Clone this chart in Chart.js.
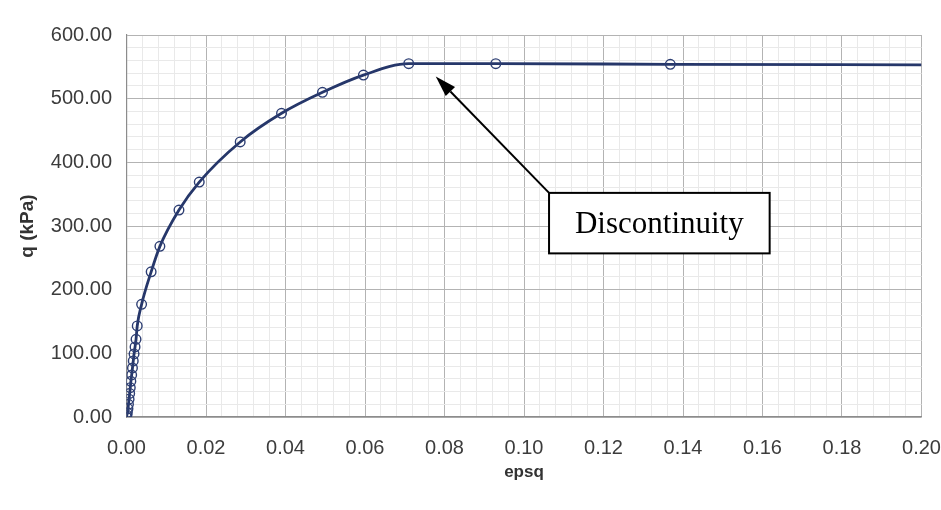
<!DOCTYPE html>
<html>
<head>
<meta charset="utf-8">
<script src="https://cdn.jsdelivr.net/npm/chart.js@4.4.1/dist/chart.umd.min.js"></script>
<style>
  html, body { margin: 0; padding: 0; background: #fff; }
  #wrap { width: 941px; height: 510px; }
</style>
</head>
<body>
<div id="wrap"><canvas id="qchart" width="941" height="510"></canvas></div>
<script>
// values (last point has no marker, the curve just runs on to the edge)
var epsq = [0, 0.0001, 0.00022, 0.00037, 0.0005, 0.00065, 0.0008, 0.00095, 0.0011, 0.0013,
            0.0015, 0.0017, 0.0019, 0.00215, 0.0024, 0.0027, 0.0038, 0.0062, 0.0084, 0.0132,
            0.0183, 0.0286, 0.0390, 0.0493, 0.0596, 0.0710, 0.0929, 0.1368, 0.2000];
var q = [0, 3, 7, 13, 20, 28, 37, 46, 56, 66,
         77, 88, 99, 110, 122, 143, 177, 228, 268, 325,
         369, 432, 477, 510, 537, 555, 555, 554, 553];

var xMajor = 0.02, xMinor = 0.004;
var yMajor = 100, yMinor = 20;

// annotation anchored in data units
var arrowTip = [0.0778, 535];
var noteBox = [0.1063, 352, 0.1618, 257]; // x1, q-top, x2, q-bottom
var noteText = "Discontinuity";

var pts = [];
for (var i = 0; i < epsq.length; i++) {
	pts.push({x: epsq[i], y: q[i]});
}

function isMajor(v, step) {
	var r = v / step;
	return Math.abs(r - Math.round(r)) < 1e-6;
}

var noteplugin = {
	id: 'note',
	beforeDraw: function(chart) {
		var c = chart.ctx;
		c.save();
		c.fillStyle = '#fff';
		c.fillRect(0, 0, chart.width, chart.height);
		c.restore();
	},
	afterDraw: function(chart) {
		var c = chart.ctx;
		var xs = chart.scales.x, ys = chart.scales.y;
		var bx1 = xs.getPixelForValue(noteBox[0]), by1 = ys.getPixelForValue(noteBox[1]);
		var bx2 = xs.getPixelForValue(noteBox[2]), by2 = ys.getPixelForValue(noteBox[3]);
		var tx = xs.getPixelForValue(arrowTip[0]), ty = ys.getPixelForValue(arrowTip[1]);

		c.save();
		// arrow shaft
		var ang = Math.atan2(ty - by1, tx - bx1);
		var hl = 21, hw = 6.5;
		var baseX = tx - hl * Math.cos(ang), baseY = ty - hl * Math.sin(ang);
		c.strokeStyle = '#000';
		c.lineWidth = 2;
		c.beginPath();
		c.moveTo(bx1, by1);
		c.lineTo(baseX, baseY);
		c.stroke();
		// arrow head
		c.fillStyle = '#000';
		c.beginPath();
		c.moveTo(tx, ty);
		c.lineTo(baseX + hw * Math.sin(ang), baseY - hw * Math.cos(ang));
		c.lineTo(baseX - hw * Math.sin(ang), baseY + hw * Math.cos(ang));
		c.closePath();
		c.fill();

		// box
		c.fillStyle = '#fff';
		c.fillRect(bx1, by1, bx2 - bx1, by2 - by1);
		c.lineWidth = 2;
		c.strokeRect(bx1, by1, bx2 - bx1, by2 - by1);
		c.fillStyle = '#000';
		c.font = '31px "Liberation Serif", "Times New Roman", serif';
		c.textAlign = 'center';
		c.textBaseline = 'middle';
		c.fillText(noteText, (bx1 + bx2) / 2, (by1 + by2) / 2 + 2);
		c.restore();
	}
};

var ctx1 = document.getElementById('qchart');

var chart1 = new Chart(ctx1, {
	type: 'scatter',
	data: {
		datasets: [{
			label: 'q',
			data: pts,
			showLine: true,
			cubicInterpolationMode: 'monotone',
			borderColor: '#26376a',
			borderWidth: 2.8,
			pointStyle: 'circle',
			pointRadius: function(c) { return c.dataIndex === epsq.length - 1 ? 0 : 4.8; },
			pointBorderWidth: 1.4,
			pointBorderColor: '#2d3e73',
			pointBackgroundColor: 'rgba(0,0,0,0)'
		}]
	},
	options: {
		responsive: false,
		animation: false,
		events: [],
		layout: { padding: { left: 0, right: 19.5, top: 35, bottom: 0 } },
		plugins: {
			legend: { display: false },
			tooltip: { enabled: false }
		},
		scales: {
			x: {
				type: 'linear',
				min: 0,
				max: 0.2,
				afterFit: function(s) {
					s.height = 93;
					s.paddingLeft = 0;
					s.paddingRight = 0;
				},
				border: { display: true, color: '#8c8c8c', width: 1.2 },
				grid: {
					drawTicks: false,
					color: function(c) {
						return (c.tick && isMajor(c.tick.value, xMajor)) ? '#b3b3b3' : '#e9e9e9';
					}
				},
				ticks: {
					stepSize: xMinor,
					autoSkip: false,
					maxRotation: 0,
					padding: 19,
					color: '#3c3c3c',
					font: { family: '"Liberation Sans", Arial, Helvetica, sans-serif', size: 20 },
					callback: function(v) { return isMajor(v, xMajor) ? v.toFixed(2) : ''; }
				},
				title: {
					display: true,
					text: 'epsq',
					color: '#333',
					font: { family: '"Liberation Sans", Arial, Helvetica, sans-serif', size: 17, weight: 'bold' },
					padding: { top: 0, bottom: 27 }
				}
			},
			y: {
				type: 'linear',
				min: 0,
				max: 600,
				afterFit: function(s) {
					s.width = 126.5;
					s.paddingTop = 0;
					s.paddingBottom = 0;
				},
				border: { display: true, color: '#8c8c8c', width: 1.2 },
				grid: {
					drawTicks: false,
					color: function(c) {
						return (c.tick && isMajor(c.tick.value, yMajor)) ? '#b3b3b3' : '#e9e9e9';
					}
				},
				ticks: {
					stepSize: yMinor,
					autoSkip: false,
					padding: 14.5,
					color: '#3c3c3c',
					font: { family: '"Liberation Sans", Arial, Helvetica, sans-serif', size: 20 },
					callback: function(v) { return isMajor(v, yMajor) ? v.toFixed(2) : ''; }
				},
				title: {
					display: true,
					text: 'q (kPa)',
					color: '#333',
					font: { family: '"Liberation Sans", Arial, Helvetica, sans-serif', size: 19, weight: 'bold' },
					padding: { top: 16, bottom: 0 }
				}
			}
		}
	},
	plugins: [noteplugin]
});
</script>
</body>
</html>
